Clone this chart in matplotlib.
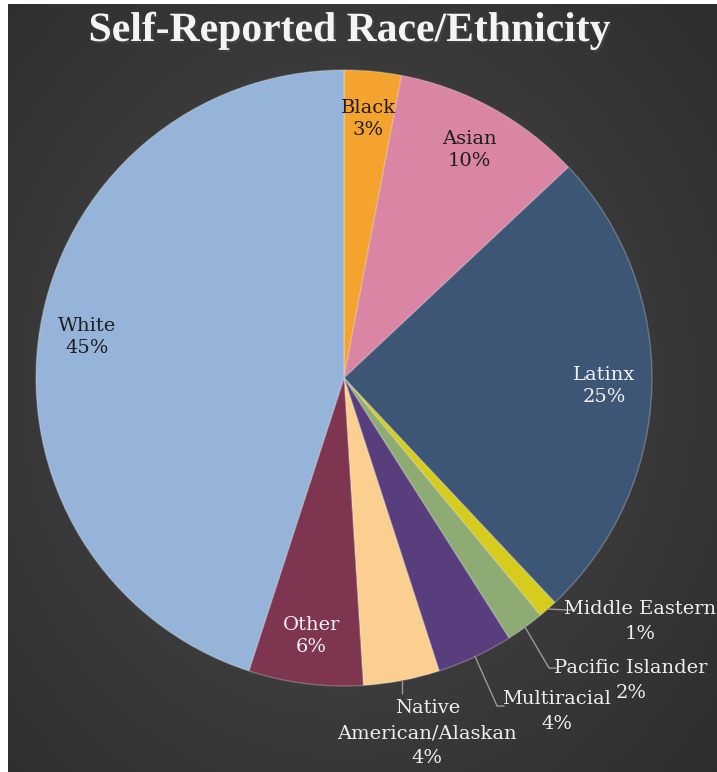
import numpy as np
import matplotlib
matplotlib.use("Agg")
import matplotlib.pyplot as plt
import matplotlib.patheffects as pe

# data (clockwise from 12 o'clock)
groups = ["Black", "Asian", "Latinx", "Middle Eastern", "Pacific Islander",
          "Multiracial", "Native\nAmerican/Alaskan", "Other", "White"]
shares = [3, 10, 25, 1, 2, 4, 4, 6, 45]
colors = ["#f5a32f", "#d985a3", "#3e5676", "#d6cc1e", "#8fab74",
          "#583e7d", "#fbcf8f", "#7e3550", "#96b4d9"]
label_ink = ["#1e1e1e", "#1e1e1e", "#f2f2f2", "#eeeeee", "#eeeeee",
             "#eeeeee", "#eeeeee", "#f2f2f2", "#1e1e1e"]
# outside labels: label centre and leader elbow (data units, pie radius = 1)
outside = {
    "Middle Eastern": ((0.961, -0.79), (0.721, -0.753)),
    "Pacific Islander": ((0.932, -0.982), (0.666, -0.942)),
    "Multiracial": ((0.691, -1.083), (0.497, -1.065)),
    "Native\nAmerican/Alaskan": ((0.270, -1.153), None),
}

W, H = 717, 772
fig = plt.figure(figsize=(W / 100, H / 100), dpi=100)
fig.patch.set_facecolor("white")

# dark radial-gradient backdrop (white strip left and top as in the source)
bg = fig.add_axes([8 / W, 0, 1 - 8 / W, 1 - 4 / H])
yy, xx = np.mgrid[0:1:300j, 0:1:300j]
rr = np.sqrt(((xx - 0.47) / 0.75) ** 2 + ((yy - 0.5) / 0.8) ** 2)
rr = np.clip(rr, 0, 1)
c0, c1 = np.array([0x4a, 0x4a, 0x4a]) / 255, np.array([0x2c, 0x2c, 0x2c]) / 255
img = c0[None, None, :] * (1 - rr[..., None]) + c1[None, None, :] * rr[..., None]
bg.imshow(img, extent=[0, 1, 0, 1], aspect="auto", origin="lower")
bg.set_axis_off()

fig.text(349 / W, 1 - 31 / H, "Self-Reported Race/Ethnicity", ha="center", va="center",
         color="#f4f4f4", fontsize=30, fontweight="bold", family="Liberation Serif",
         path_effects=[pe.withSimplePatchShadow(offset=(1.5, -1.5), alpha=0.6)])

R = 308
cx, cy = 344, 378
ax = fig.add_axes([(cx - R) / W, (H - cy - R) / H, 2 * R / W, 2 * R / H])
wedges, _ = ax.pie(shares, colors=colors, startangle=90, counterclock=False, radius=1,
                   wedgeprops=dict(edgecolor=(1, 1, 1, 0.25), linewidth=1))
ax.set_xlim(-1, 1)
ax.set_ylim(-1, 1)
ax.set_axis_off()

font = dict(family="DejaVu Serif", fontsize=14)
line_step = 25 / R
for w, name, val, ink in zip(wedges, groups, shares, label_ink):
    mid = np.deg2rad((w.theta1 + w.theta2) / 2)
    text = f"{name}\n{val}%"
    if name in outside:
        (tx, ty), elbow = outside[name]
        px, py = np.cos(mid), np.sin(mid)
        if elbow is None:
            ax.plot([px, px], [py, py - 0.04], color="#9a9a9a", lw=1, clip_on=False)
        else:
            ex, ey = elbow
            ax.plot([px, ex, ex + 0.022], [py, ey, ey], color="#9a9a9a", lw=1, clip_on=False)
        lines = text.split("\n")
        top = ty + line_step * (len(lines) - 1) / 2
        for i, ln in enumerate(lines):
            ax.text(tx, top - i * line_step, ln, ha="center", va="center", color=ink,
                    clip_on=False, **font)
    else:
        d = 0.845
        ax.text(d * np.cos(mid), d * np.sin(mid), text, ha="center", va="center",
                color=ink, linespacing=1.3, **font)

fig.savefig("out.png", dpi=100)
